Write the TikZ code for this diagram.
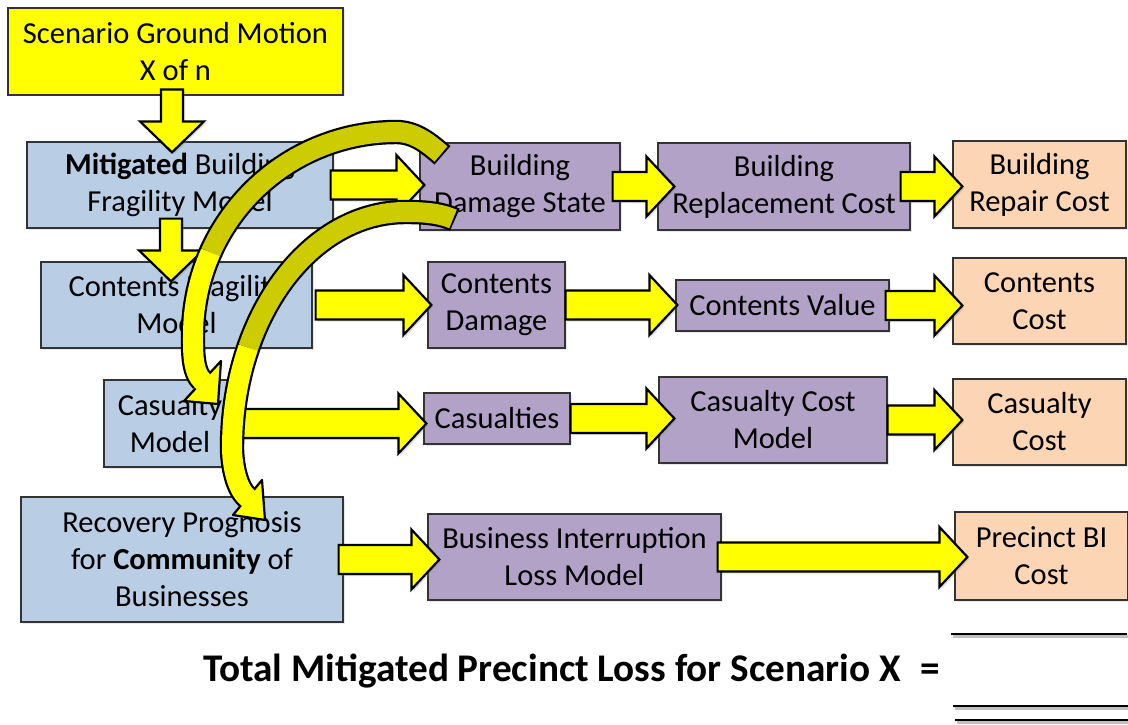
\documentclass[tikz,border=0pt]{standalone}
\usepackage{fontspec}
\setmainfont{Carlito}
\usetikzlibrary{calc,shadows}
\definecolor{cblue}{HTML}{B9CDE5}
\definecolor{cpurple}{HTML}{B3A2C7}
\definecolor{corange}{HTML}{FCD5B5}
\definecolor{cyellow}{HTML}{FFFF00}
\definecolor{colive}{RGB}{204,204,0}
% horizontal block arrow: from node, to node, start offset, tip overlap
\newcommand\rarrow[4]{%
  \filldraw[blockarrow] let \p1=($(#1.east)+(#3,0)$), \p2=($(#2.west)+(#4,0)$) in
  (\x1,\y1+14.5pt) -- (\x2-28pt,\y1+14.5pt) -- (\x2-28pt,\y1+30pt) -- (\x2,\y1)
  -- (\x2-28pt,\y1-30pt) -- (\x2-28pt,\y1-14.5pt) -- (\x1,\y1-14.5pt) -- cycle;}
% vertical block arrow: from node, to node, x centre, start offset, tip overlap
\newcommand\darrow[5]{%
  \filldraw[blockarrow] let \p1=($(#1.south)+(0,-#4)$), \p2=($(#2.north)+(0,#5)$), \p3=(#3,0) in
  (\x3-11pt,\y1) -- (\x3-11pt,\y2+31pt) -- (\x3-32pt,\y2+31pt) -- (\x3,\y2)
  -- (\x3+32pt,\y2+31pt) -- (\x3+11pt,\y2+31pt) -- (\x3+11pt,\y1) -- cycle;}
\begin{document}
\begin{tikzpicture}[x=1pt,y=-1pt,
  box/.style={draw=black!80, line width=1.2pt, inner sep=0pt, align=center,
    font=\fontsize{30.5}{37}\selectfont,
    drop shadow={opacity=0.18, shadow xshift=1.5pt, shadow yshift=-1.5pt}},
  bluebox/.style={box, fill=cblue},
  purplebox/.style={box, fill=cpurple},
  orangebox/.style={box, fill=corange},
  blockarrow/.style={fill=cyellow, draw=black, line width=2.2pt, line join=miter,
    drop shadow={opacity=0.25, shadow xshift=2pt, shadow yshift=-2pt}},
  bandout/.style={line width=24.4pt, black},
  bandin/.style={line width=20pt},
  headstyle/.style={fill=cyellow, draw=black, line width=2.2pt, line join=round},
  rule/.style={line width=2.6pt, black}
]
\useasboundingbox (0,0) rectangle (1128,725);

% ---------- boxes ----------
\node[box, fill=cyellow, minimum width=335pt, minimum height=87pt] (scen) at (175.5,51.5) {Scenario Ground Motion\\X of n};
\node[bluebox, minimum width=306pt, minimum height=86pt] (mbf) at (180,185) {\textbf{Mitigated} Building\\Fragility Model};
\node[bluebox, minimum width=271pt, minimum height=86pt] (cfm) at (176.5,305) {Contents Fragility\\Model};
\node[bluebox, minimum width=132pt, minimum height=87pt] (cas) at (170,423.5) {Casualty\\Model};
\node[bluebox, minimum width=322pt, minimum height=125pt] (rec) at (182,559.5) {Recovery Prognosis\\for \textbf{Community} of\\Businesses};

\node[purplebox, minimum width=200pt, minimum height=87pt] (bds) at (520,186.5) {Building\\Damage State};
\node[purplebox, minimum width=252pt, minimum height=87pt] (brc) at (784,186.5) {Building\\Replacement Cost};
\node[purplebox, minimum width=137pt, minimum height=86pt] (cd) at (496.5,305) {Contents\\Damage};
\node[purplebox, minimum width=213pt, minimum height=51pt] (cv) at (782.5,305.5) {Contents Value};
\node[purplebox, minimum width=146pt, minimum height=51pt] (casl) at (497,418.5) {Casualties};
\node[purplebox, minimum width=228pt, minimum height=86pt] (ccm) at (773,420) {Casualty Cost\\Model};
\node[purplebox, minimum width=293pt, minimum height=86pt] (bi) at (574.5,557) {Business Interruption\\Loss Model};

\node[orangebox, minimum width=173pt, minimum height=87pt] (brep) at (1039.5,184.5) {Building\\Repair Cost};
\node[orangebox, minimum width=173pt, minimum height=86pt] (cc) at (1039.5,301) {Contents\\Cost};
\node[orangebox, minimum width=173pt, minimum height=86pt] (casc) at (1039.5,422) {Casualty\\Cost};
\node[orangebox, minimum width=173pt, minimum height=88pt] (pbi) at (1041.5,556) {Precinct BI\\Cost};

% ---------- straight block arrows ----------
\darrow{scen}{mbf}{172}{6}{11}
\darrow{mbf}{cfm}{171}{10}{20}
\rarrow{mbf}{bds}{-3}{5}
\rarrow{bds}{brc}{-8}{17}
\rarrow{brc}{brep}{-10}{10}
\rarrow{cfm}{cd}{3}{4}
\rarrow{cd}{cv}{0}{2}
\rarrow{cv}{cc}{-4}{10}
\rarrow{cas}{casl}{0}{3}
\rarrow{casl}{ccm}{0}{16}
\rarrow{ccm}{casc}{0}{10}
\rarrow{rec}{bi}{-5}{12}
\rarrow{bi}{pbi}{-4}{13}

% ---------- curved arrow 1 (Building Damage State -> Casualty Model) ----------
\draw[bandout] (442.5,155.3) -- (441,154) .. controls (427,142) and (414,132) .. (396,132)
  -- plot[domain=270:180, samples=40] ({396+203*cos(\x)},{335+203*sin(\x)})
  .. controls (193,349) and (192.2,371.5) .. (202.5,381);
\filldraw[headstyle] (221,361) -- (218,404) -- (184,401) -- cycle;
\draw[bandin, colive] (441,154) .. controls (427,142) and (414,132) .. (396,132)
  -- plot[domain=270:204, samples=30] ({396+203*cos(\x)},{335+203*sin(\x)});
\draw[bandin, cyellow] plot[domain=204:180, samples=15] ({396+203*cos(\x)},{335+203*sin(\x)})
  .. controls (193,349) and (192.2,371.5) .. (202.5,381) -- (203.6,382);

% ---------- curved arrow 2 (Building Damage State -> Recovery Prognosis) ----------
\draw[bandout] (454.8,219.8) -- (453,219) .. controls (438.3,212.6) and (421,212) .. (405,212)
  -- plot[domain=270:180, samples=40] ({405+173*cos(\x)},{447+235*sin(\x)})
  .. controls (232,463) and (236,488) .. (247.5,497.5);
\filldraw[headstyle] (262,480) -- (265,520) -- (233,515) -- cycle;
\draw[bandin, colive] (453,219) .. controls (438.3,212.6) and (421,212) .. (405,212)
  -- plot[domain=270:205, samples=30] ({405+173*cos(\x)},{447+235*sin(\x)});
\draw[bandin, cyellow] plot[domain=205:180, samples=15] ({405+173*cos(\x)},{447+235*sin(\x)})
  .. controls (232,463) and (236,488) .. (247.5,497.5) -- (248.7,498.5);

% ---------- total line ----------
\node[anchor=base west, inner sep=0pt, font=\bfseries\fontsize{39.2}{45}\selectfont] (total) at (203,681)
  {Total Mitigated Precinct Loss for Scenario X\hspace{20pt}=};
\draw[rule, black!25] (953,636.5) -- (1129,636.5);
\draw[rule] (951,634) -- (1127,634);
\draw[rule, black!25] (955,708.5) -- (1130,708.5);
\draw[rule] (953,706) -- (1128,706);
\draw[rule, black!25] (957,722.5) -- (1130,722.5);
\draw[rule] (955,720) -- (1128,720);
\end{tikzpicture}
\end{document}
